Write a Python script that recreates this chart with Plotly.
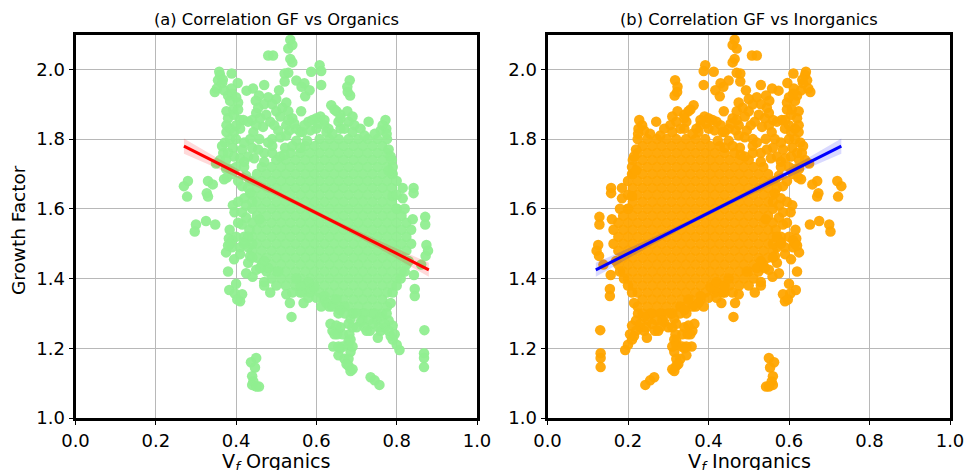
import plotly.graph_objects as go

# Outlying / individually readable points
edge_gf = [2.085,2.06,2.07,2.04,2.04,2.03,2.02,1.99,1.988,1.965,
1.968,1.95,1.96,1.923,1.94,1.993,2.012,1.995,1.955,1.969,
1.95,1.935,1.925,1.993,1.984,1.969,1.97,1.988,1.961,1.935,
1.945,1.939,1.945,1.955,1.925,1.91,1.92,1.945,1.925,1.905,
1.88,1.885,1.855,1.84,1.82,1.82,1.83,1.875,1.87,1.835,
1.82,1.80,1.79,1.775,1.76,1.77,1.775,1.74,1.715,1.69,
1.735,1.665,1.695,1.61,1.59,1.59,1.645,1.555,1.54,1.57,
1.68,1.665,1.635,1.68,1.67,1.645,1.635,1.555,1.565,1.555,
1.535,1.685,1.73,1.94,1.905,1.915,1.88,1.86,1.84,1.865,
1.825,1.81,1.795,1.795,1.825,1.775,1.80,1.85,1.897,1.88,
1.87,1.88,1.85,1.84,1.85,1.855,1.83,1.825,1.865,1.86,
1.84,1.83,1.70,1.637,1.66,1.63,1.66,1.645,1.577,1.555,
1.57,1.496,1.48,1.465,1.44,1.41,1.37,1.35,1.252,1.186,
1.172,1.146,1.195,1.21,1.235,1.265,1.23,1.25,1.275,1.285,
1.24,1.21,1.19,1.18,1.205,1.15,1.135,1.117,1.108,1.095,
1.25,1.27,1.32,1.345,1.29,1.355,1.33,1.33,1.36,1.37,
1.42,1.367,1.385,1.357,1.335,1.355,1.34,1.415,1.405,1.425,
1.445,1.465,1.475,1.515,1.49,1.455,1.49,1.54,1.172,1.16,
1.145,1.12,1.095,1.09,1.105,1.09,1.24,1.24,1.26,1.30,
1.30,1.28,1.26,1.25,1.28,1.22,1.20,1.17,1.30,1.32,
1.35,1.345,1.38,1.39,1.36,1.78,1.83,1.85,1.82,1.83,1.83]

edge_organics = [.535,.53,.54,.492,.48,.535,.54,.53,.521,.521,
.55,.563,.57,.572,.583,.587,.608,.612,.612,.683,
.677,.678,.684,.358,.36,.355,.367,.389,.404,.347,
.352,.426,.442,.47,.457,.449,.48,.388,.38,.405,
.376,.393,.418,.376,.376,.395,.41,.45,.475,.467,
.443,.458,.372,.392,.368,.415,.44,.36,.385,.377,
.42,.415,.425,.392,.396,.415,.435,.415,.384,.458,
.28,.27,.278,.33,.342,.327,.33,.30,.325,.348,
.297,.37,.35,.507,.525,.50,.562,.54,.525,.51,
.533,.525,.55,.577,.505,.522,.49,.485,.637,.65,
.66,.677,.68,.695,.73,.772,.774,.76,.61,.60,
.62,.66,.79,.79,.815,.815,.842,.842,.871,.871,
.84,.874,.878,.872,.861,.843,.845,.845,.869,.868,
.868,.868,.807,.80,.785,.79,.753,.733,.71,.685,
.682,.68,.685,.655,.642,.68,.685,.735,.745,.757,
.64,.635,.612,.60,.538,.525,.534,.568,.565,.585,
.38,.383,.40,.397,.41,.415,.403,.425,.441,.45,
.43,.435,.375,.382,.39,.395,.41,.433,.45,.437,
.447,.44,.44,.457,.443,.45,.652,.665,.70,.69,
.72,.75,.77,.76,.78,.68,.66,.67,.655,.67,
.62,.58,.50,.47,.485,.49,.55,.58,.56,.60,.63]

edge_inorganics = [.465,.47,.46,.508,.52,.465,.46,.47,.479,.479,
.45,.437,.43,.428,.417,.413,.392,.388,.388,.317,
.323,.322,.316,.642,.64,.645,.633,.611,.596,.653,
.648,.574,.558,.53,.543,.551,.52,.612,.62,.595,
.624,.607,.582,.624,.624,.605,.59,.55,.525,.533,
.557,.542,.628,.608,.632,.585,.56,.64,.615,.623,
.58,.585,.575,.608,.604,.585,.565,.585,.616,.542,
.72,.73,.722,.67,.658,.673,.67,.70,.675,.652,
.703,.63,.65,.493,.475,.50,.438,.46,.475,.49,
.467,.475,.45,.423,.495,.478,.51,.515,.363,.35,
.34,.323,.32,.305,.27,.228,.226,.24,.39,.40,
.38,.34,.21,.21,.185,.185,.158,.158,.129,.129,
.16,.126,.122,.128,.139,.157,.155,.155,.131,.132,
.132,.132,.193,.20,.215,.21,.247,.267,.29,.315,
.318,.32,.315,.345,.358,.32,.315,.265,.255,.243,
.36,.365,.388,.40,.462,.475,.466,.432,.435,.415,
.62,.617,.60,.603,.59,.585,.597,.575,.559,.55,
.57,.565,.625,.618,.61,.605,.59,.567,.55,.563,
.553,.56,.56,.543,.557,.55,.348,.335,.30,.31,
.28,.25,.23,.24,.22,.32,.34,.33,.345,.33,
.38,.42,.50,.53,.515,.51,.45,.42,.44,.40,.37]

# Patchy fringe of the cloud
fringe_gf = [1.96,1.94,1.91,1.93,1.92,1.86,1.87,1.885,1.80,1.80,
1.855,1.83,1.84,1.78,1.76,1.75,1.745,1.74,1.72,1.70,
1.68,1.715,1.75,1.72,1.68,1.66,1.63,1.62,1.62,1.61,
1.56,1.575,1.52,1.52,1.51,1.47,1.505,1.50,1.495,1.49,
1.85,1.855,1.84,1.86,1.90,1.89,1.90,1.88,1.89,1.88,
1.845,1.855,1.84,1.805,1.79,1.76,1.77,1.80,1.79,1.745,
1.735,1.76,1.75,1.755,1.78,1.775,1.82,1.825,1.84,1.855,
1.845,1.82,1.815,1.85,1.83,1.82,1.83,1.81,1.815,1.84,
1.815,1.86,1.885,1.855,1.865,1.77,1.75,1.72,1.68,1.60,
1.60,1.64,1.71,
1.33,1.32,1.34,1.31,1.30,1.30,1.28,1.28,1.30,1.29,
1.30,1.33,1.36,1.38,1.40,1.42,1.45,1.26,1.27,1.26,
1.25,1.27,1.25,1.225,1.24,1.27,1.26,1.225,1.205,1.17,
1.155,1.14,1.205,1.205,1.265,1.24,1.26,1.375,1.39,1.38,
1.40,1.36,1.42,1.43,1.45,1.38,1.43,1.50,1.52,1.50,1.46]

fringe_organics = [.365,.37,.385,.39,.40,.38,.395,.405,.385,.40,
.41,.385,.40,.365,.38,.395,.41,.375,.40,.39,
.405,.375,.43,.42,.435,.43,.42,.44,.405,.425,
.405,.425,.40,.42,.39,.41,.42,.385,.38,.43,
.43,.44,.45,.46,.47,.455,.49,.50,.515,.53,
.545,.53,.495,.51,.48,.47,.455,.435,.42,.445,
.47,.49,.51,.52,.54,.56,.565,.585,.57,.59,
.605,.625,.64,.655,.67,.69,.71,.72,.745,.765,
.775,.66,.645,.62,.69,.78,.785,.79,.80,.80,
.82,.80,.78,
.625,.64,.65,.66,.67,.70,.715,.73,.745,.76,
.775,.785,.79,.80,.81,.82,.83,.755,.74,.72,
.725,.77,.78,.79,.795,.68,.69,.685,.69,.68,
.675,.69,.665,.655,.65,.645,.66,.595,.58,.56,
.55,.54,.505,.48,.47,.47,.46,.44,.43,.42,.44]

fringe_inorganics = [.635,.63,.615,.61,.60,.62,.605,.595,.615,.60,
.59,.615,.60,.635,.62,.605,.59,.625,.60,.61,
.595,.625,.57,.58,.565,.57,.58,.56,.595,.575,
.595,.575,.60,.58,.61,.59,.58,.615,.62,.57,
.57,.56,.55,.54,.53,.545,.51,.50,.485,.47,
.455,.47,.505,.49,.52,.53,.545,.565,.58,.555,
.53,.51,.49,.48,.46,.44,.435,.415,.43,.41,
.395,.375,.36,.345,.33,.31,.29,.28,.255,.235,
.225,.34,.355,.38,.31,.22,.215,.21,.20,.20,
.18,.20,.22,
.375,.36,.35,.34,.33,.30,.285,.27,.255,.24,
.225,.215,.21,.20,.19,.18,.17,.245,.26,.28,
.275,.23,.22,.21,.205,.32,.31,.315,.31,.32,
.325,.31,.335,.345,.35,.355,.34,.405,.42,.44,
.45,.46,.495,.52,.53,.53,.54,.56,.57,.58,.56]

# Dense core of the cloud, read row by row
core_gf = [1.80,1.78,1.76,1.74,1.72,1.70,1.68,1.66,1.64,1.62,1.60,1.58,1.56,
           1.54,1.52,1.50,1.48,1.46,1.44,1.42,1.40,1.38,1.36,1.34,1.32,1.30]

core_organics = [
[.608,.632,.656,.680,.704,.728,.752,.776],
[.572,.596,.620,.644,.668,.692,.716,.740,.764],
[.536,.560,.584,.608,.632,.656,.680,.704,.728,.752,.776],
[.500,.524,.548,.572,.596,.620,.644,.668,.692,.716,.740,.764,.788],
[.464,.488,.512,.536,.560,.584,.608,.632,.656,.680,.704,.728,.752,.776],
[.452,.476,.500,.524,.548,.572,.596,.620,.644,.668,.692,.716,.740,.764,.788],
[.440,.464,.488,.512,.536,.560,.584,.608,.632,.656,.680,.704,.728,.752,.776],
[.452,.476,.500,.524,.548,.572,.596,.620,.644,.668,.692,.716,.740,.764,.788],
[.440,.464,.488,.512,.536,.560,.584,.608,.632,.656,.680,.704,.728,.752,.776],
[.452,.476,.500,.524,.548,.572,.596,.620,.644,.668,.692,.716,.740,.764,.788],
[.440,.464,.488,.512,.536,.560,.584,.608,.632,.656,.680,.704,.728,.752,.776,.800],
[.452,.476,.500,.524,.548,.572,.596,.620,.644,.668,.692,.716,.740,.764,.788,.812],
[.440,.464,.488,.512,.536,.560,.584,.608,.632,.656,.680,.704,.728,.752,.776,.800,.824],
[.452,.476,.500,.524,.548,.572,.596,.620,.644,.668,.692,.716,.740,.764,.788,.812,.836],
[.440,.464,.488,.512,.536,.560,.584,.608,.632,.656,.680,.704,.728,.752,.776,.800,.824],
[.452,.476,.500,.524,.548,.572,.596,.620,.644,.668,.692,.716,.740,.764,.788,.812,.836],
[.440,.464,.488,.512,.536,.560,.584,.608,.632,.656,.680,.704,.728,.752,.776,.800,.824],
[.452,.476,.500,.524,.548,.572,.596,.620,.644,.668,.692,.716,.740,.764,.788,.812],
[.464,.488,.512,.536,.560,.584,.608,.632,.656,.680,.704,.728,.752,.776,.800,.824],
[.476,.500,.524,.548,.572,.596,.620,.644,.668,.692,.716,.740,.764,.788,.812],
[.488,.512,.536,.560,.584,.608,.632,.656,.680,.704,.728,.752,.776,.800],
[.524,.548,.572,.596,.620,.644,.668,.692,.716,.740,.764,.788],
[.560,.584,.608,.632,.656,.680,.704,.728,.752,.776],
[.620,.644,.668,.692,.716,.740,.764],
[.632,.656,.680,.704,.728,.752,.776],
[.692,.716,.740,.764],
]

core_inorganics = [
[.392,.368,.344,.320,.296,.272,.248,.224],
[.428,.404,.380,.356,.332,.308,.284,.260,.236],
[.464,.440,.416,.392,.368,.344,.320,.296,.272,.248,.224],
[.500,.476,.452,.428,.404,.380,.356,.332,.308,.284,.260,.236,.212],
[.536,.512,.488,.464,.440,.416,.392,.368,.344,.320,.296,.272,.248,.224],
[.548,.524,.500,.476,.452,.428,.404,.380,.356,.332,.308,.284,.260,.236,.212],
[.560,.536,.512,.488,.464,.440,.416,.392,.368,.344,.320,.296,.272,.248,.224],
[.548,.524,.500,.476,.452,.428,.404,.380,.356,.332,.308,.284,.260,.236,.212],
[.560,.536,.512,.488,.464,.440,.416,.392,.368,.344,.320,.296,.272,.248,.224],
[.548,.524,.500,.476,.452,.428,.404,.380,.356,.332,.308,.284,.260,.236,.212],
[.560,.536,.512,.488,.464,.440,.416,.392,.368,.344,.320,.296,.272,.248,.224,.200],
[.548,.524,.500,.476,.452,.428,.404,.380,.356,.332,.308,.284,.260,.236,.212,.188],
[.560,.536,.512,.488,.464,.440,.416,.392,.368,.344,.320,.296,.272,.248,.224,.200,.176],
[.548,.524,.500,.476,.452,.428,.404,.380,.356,.332,.308,.284,.260,.236,.212,.188,.164],
[.560,.536,.512,.488,.464,.440,.416,.392,.368,.344,.320,.296,.272,.248,.224,.200,.176],
[.548,.524,.500,.476,.452,.428,.404,.380,.356,.332,.308,.284,.260,.236,.212,.188,.164],
[.560,.536,.512,.488,.464,.440,.416,.392,.368,.344,.320,.296,.272,.248,.224,.200,.176],
[.548,.524,.500,.476,.452,.428,.404,.380,.356,.332,.308,.284,.260,.236,.212,.188],
[.536,.512,.488,.464,.440,.416,.392,.368,.344,.320,.296,.272,.248,.224,.200,.176],
[.524,.500,.476,.452,.428,.404,.380,.356,.332,.308,.284,.260,.236,.212,.188],
[.512,.488,.464,.440,.416,.392,.368,.344,.320,.296,.272,.248,.224,.200],
[.476,.452,.428,.404,.380,.356,.332,.308,.284,.260,.236,.212],
[.440,.416,.392,.368,.344,.320,.296,.272,.248,.224],
[.380,.356,.332,.308,.284,.260,.236],
[.368,.344,.320,.296,.272,.248,.224],
[.308,.284,.260,.236],
]

# Regression fits with confidence bands
fit_organics_x = [.27,.35,.45,.55,.65,.75,.88]
fit_organics_y = [1.78,1.733,1.675,1.617,1.559,1.501,1.425]
fit_organics_hi = [1.802,1.748,1.685,1.624,1.566,1.512,1.445]
fit_organics_lo = [1.758,1.718,1.665,1.610,1.552,1.490,1.405]

fit_inorganics_x = [.12,.25,.35,.45,.55,.65,.73]
fit_inorganics_y = [1.425,1.501,1.559,1.617,1.675,1.733,1.78]
fit_inorganics_hi = [1.445,1.512,1.566,1.624,1.685,1.748,1.802]
fit_inorganics_lo = [1.405,1.490,1.552,1.610,1.665,1.718,1.758]

tick_x = [0.0,0.2,0.4,0.6,0.8,1.0]
tick_y = [1.0,1.2,1.4,1.6,1.8,2.0]

FONT = "DejaVu Sans"


def flatten(rows, levels):
    xs, ys = [], []
    for row, level in zip(rows, levels):
        for v in row:
            xs.append(v)
            ys.append(level)
    return xs, ys


def add_panel(fig, xa, ya, xs, ys, color, line_color, band_color, fx, fy, hi, lo):
    fig.add_trace(go.Scatter(x=xs, y=ys, mode="markers", xaxis=xa, yaxis=ya,
                             marker=dict(color=color, size=10.5, opacity=0.95, line=dict(width=0)),
                             showlegend=False))
    fig.add_trace(go.Scatter(x=fx + fx[::-1], y=hi + lo[::-1], mode="lines", fill="toself",
                             xaxis=xa, yaxis=ya, fillcolor=band_color, line=dict(width=0),
                             showlegend=False))
    fig.add_trace(go.Scatter(x=fx, y=fy, mode="lines", xaxis=xa, yaxis=ya,
                             line=dict(color=line_color, width=3), showlegend=False))


fig = go.Figure()
cx, cy = flatten(core_organics, core_gf)
add_panel(fig, "x", "y", cx + edge_organics + fringe_organics, cy + edge_gf + fringe_gf, "#90EE90", "#FF0000",
          "rgba(255,0,0,0.15)", fit_organics_x, fit_organics_y, fit_organics_hi, fit_organics_lo)
cx, cy = flatten(core_inorganics, core_gf)
add_panel(fig, "x2", "y2", cx + edge_inorganics + fringe_inorganics, cy + edge_gf + fringe_gf, "#FFA500", "#0000FF",
          "rgba(0,0,255,0.15)", fit_inorganics_x, fit_inorganics_y, fit_inorganics_hi, fit_inorganics_lo)

W, H = 964, 470
common = dict(showline=True, linecolor="black", linewidth=3, mirror=True, showgrid=True,
              gridcolor="#b8b8b8", gridwidth=1, zeroline=False, ticks="outside", ticklen=4,
              tickwidth=1, tickcolor="black", automargin=False, ticklabeloverflow="allow",
              tickfont=dict(family=FONT, size=18, color="black"))
xcommon = dict(common, range=[0, 1], tickvals=tick_x, ticktext=[f"{v:.1f}" for v in tick_x])
ycommon = dict(common, range=[1.0, 2.1], tickvals=tick_y, ticktext=[f"{v:.1f}" for v in tick_y])
domain_y = [(H - 418) / H, (H - 34.5) / H]


def label(text, px, py, size, angle=0):
    return dict(text=text, x=px / W, y=1 - py / H, xref="paper", yref="paper", showarrow=False,
                xanchor="center", yanchor="middle", textangle=angle,
                font=dict(family=FONT, size=size, color="black"))


fig.update_layout(
    width=W, height=H, autosize=False, margin=dict(l=0, r=0, t=0, b=0),
    paper_bgcolor="white", plot_bgcolor="white",
    xaxis=dict(xcommon, domain=[75.5 / W, 477 / W], anchor="y"),
    yaxis=dict(ycommon, domain=domain_y, anchor="x"),
    xaxis2=dict(xcommon, domain=[547.5 / W, 950 / W], anchor="y2"),
    yaxis2=dict(ycommon, domain=domain_y, anchor="x2"),
    annotations=[
        label("(a) Correlation GF vs Organics", 276.5, 20, 16.3),
        label("(b) Correlation GF vs Inorganics", 749, 20, 16.3),
        label("V<sub><i>f</i></sub> Organics", 276.5, 462, 19.2),
        label("V<sub><i>f</i></sub> Inorganics", 749, 462, 19.2),
        label("Growth Factor", 19, 230, 18.5, -90),
    ],
)
fig.write_html("out.html", config=dict(displayModeBar=False),
               post_script="document.body.style.margin='0';document.body.style.overflow='hidden';")
